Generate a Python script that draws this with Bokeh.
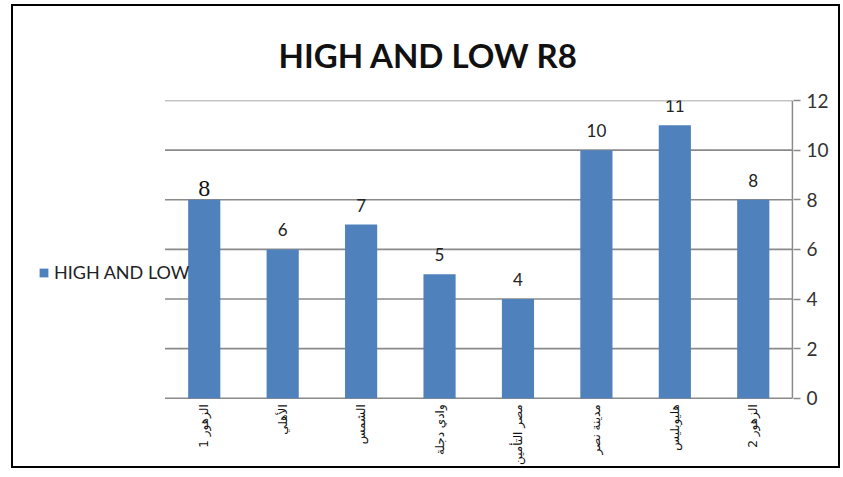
import math
from bokeh.plotting import figure
from bokeh.models import Range1d, FixedTicker, Legend, LegendItem, ColumnDataSource
from bokeh.core.properties import value
from bokeh.embed import file_html
from bokeh.resources import INLINE

categories = ["الزهور 1", "الأهلي", "الشمس", "وادي دجلة", "مصر التأمين", "مدينة نصر", "هليوبليس", "الزهور 2"]
values = [8, 6, 7, 5, 4, 10, 11, 8]
y_ticks = [0, 2, 4, 6, 8, 10, 12]
series_name = "HIGH AND LOW"
title_text = "HIGH AND LOW R8"

BAR = "#4F81BD"
GRID = "#8A8A8A"

n = len(categories)
y_max = y_ticks[-1]
xpos = [i + 0.5 for i in range(n)]
src = ColumnDataSource(dict(x=xpos, val=values, lab=[str(v) for v in values]))
first = ColumnDataSource(dict(x=xpos[:1], val=values[:1], lab=[str(values[0])]))
rest = ColumnDataSource(dict(x=xpos[1:], val=values[1:], lab=[str(v) for v in values[1:]]))
cats = ColumnDataSource(dict(x=xpos, y=[0] * n, name=categories))
grid = ColumnDataSource(dict(x0=[0] * len(y_ticks), x1=[n] * len(y_ticks), y=y_ticks))

# frame extends below the baseline so the category texts can sit under the bars
p = figure(width=829, height=464, x_range=Range1d(-1.779, n + 0.013), y_range=Range1d(-2.83, y_max),
           output_backend="svg", toolbar_location=None, y_axis_location="right", x_axis_location=None,
           min_border_left=12, min_border_right=49, min_border_bottom=2, min_border_top=90)
p.styles = {"border": "2px solid black", "margin-left": "11px", "margin-top": "4px"}
p.outline_line_color = None
p.xgrid.grid_line_color = None
p.ygrid.grid_line_color = None

p.segment(x0="x0", x1="x1", y0="y", y1="y", source=grid, line_color=GRID, line_width=1.6)
p.segment(x0=[n], x1=[n], y0=[0], y1=[y_max], line_color=GRID, line_width=1.6)
r = p.vbar(x="x", top="val", width=0.41, source=src, fill_color=BAR, line_color=None)

p.text(x="x", y="val", text="lab", source=rest, text_align="center", text_baseline="bottom",
       y_offset=-13, text_font=value("Lato"), text_font_size="17px", text_color="#222222")
p.text(x="x", y="val", text="lab", source=first, text_align="center", text_baseline="bottom",
       y_offset=-4, text_font=value("Liberation Serif"), text_font_size="24px", text_color="#111111")

p.text(x="x", y="y", text="name", source=cats, angle=math.pi / 2, text_align="right",
       text_baseline="middle", y_offset=6, text_font=value("DejaVu Sans"),
       text_font_size="12px", text_color="#111111")

p.title.text = title_text
p.title.text_font = "Lato"
p.title.text_font_style = "bold"
p.title.text_font_size = "33px"
p.title.text_color = "#111111"
p.title.text_line_height = 0.9
p.title.align = "left"
p.title.offset = 253
p.title.standoff = 52

ya = p.yaxis[0]
ya.ticker = FixedTicker(ticks=y_ticks)
ya.axis_line_color = None
ya.major_tick_line_color = GRID
ya.major_tick_line_width = 1.6
ya.major_tick_out = 7
ya.major_tick_in = 0
ya.minor_tick_line_color = None
ya.major_label_text_font = "Lato"
ya.major_label_text_font_size = "19px"
ya.major_label_text_color = "#333333"
ya.major_label_standoff = 6

legend = Legend(items=[LegendItem(label=series_name, renderers=[r])], location=(13, 185),
                background_fill_alpha=0, border_line_color=None, padding=0, margin=0,
                glyph_width=11, glyph_height=11, label_height=18, label_standoff=5,
                label_text_font="Lato", label_text_font_size="18px", label_text_color="#222222")
p.add_layout(legend, "center")

open("out.html", "w").write(file_html(p, INLINE))
